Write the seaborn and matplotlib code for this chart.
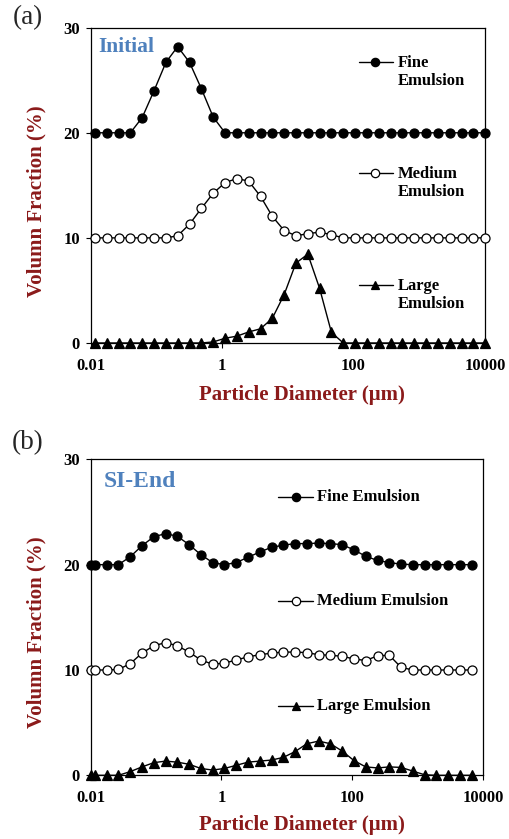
import matplotlib
matplotlib.use('Agg')
import matplotlib.pyplot as plt
import seaborn as sns
import pandas as pd
from matplotlib.ticker import FixedLocator, NullLocator

# ---------------- data ----------------
diam_a = [0.0116, 0.0176, 0.0266, 0.0403, 0.0610, 0.0923, 0.140, 0.211, 0.320, 0.484,
          0.733, 1.11, 1.68, 2.54, 3.85, 5.82, 8.81, 13.3, 20.2, 30.5,
          46.2, 70.0, 106, 160, 243, 367, 556, 841, 1274, 1928,
          2917, 4416, 6683, 10000]
fine_a = [20, 20, 20, 20, 21.45, 24.0, 26.7, 28.2, 26.7, 24.2,
          21.5, 20, 20, 20, 20, 20, 20, 20, 20, 20,
          20, 20, 20, 20, 20, 20, 20, 20, 20, 20,
          20, 20, 20, 20]
medium_a = [10, 10, 10, 10, 10, 10, 10, 10.2, 11.3, 12.8,
            14.25, 15.25, 15.65, 15.4, 13.95, 12.05, 10.7, 10.2, 10.4, 10.55,
            10.3, 10, 10, 10, 10, 10, 10, 10, 10, 10,
            10, 10, 10, 10]
large_a = [0, 0, 0, 0, 0, 0, 0, 0, 0, 0,
           0.1, 0.45, 0.65, 1.05, 1.35, 2.35, 4.6, 7.6, 8.45, 5.2,
           1.0, 0, 0, 0, 0, 0, 0, 0, 0, 0,
           0, 0, 0, 0]

diam_b = [0.0100, 0.0116, 0.0176, 0.0266, 0.0403, 0.0610, 0.0923, 0.140, 0.211, 0.320,
          0.484, 0.733, 1.11, 1.68, 2.54, 3.85, 5.82, 8.81, 13.3, 20.2,
          30.5, 46.2, 70.0, 106, 160, 243, 367, 556, 841, 1274,
          1928, 2917, 4416, 6683]
fine_b = [20, 20, 20, 20, 20.75, 21.8, 22.65, 22.95, 22.7, 21.9,
          20.95, 20.2, 20.0, 20.2, 20.7, 21.2, 21.65, 21.85, 22.0, 22.0,
          22.05, 22.0, 21.9, 21.4, 20.8, 20.4, 20.2, 20.05, 20, 20,
          20, 20, 20, 20]
medium_b = [10, 10, 10, 10.05, 10.6, 11.6, 12.3, 12.6, 12.3, 11.7,
            10.95, 10.55, 10.65, 10.95, 11.25, 11.45, 11.6, 11.7, 11.7, 11.65,
            11.45, 11.4, 11.3, 11.05, 10.9, 11.35, 11.4, 10.25, 10, 10,
            10, 10, 10, 10]
large_b = [0, 0, 0, 0, 0.35, 0.8, 1.2, 1.35, 1.25, 1.05,
           0.65, 0.5, 0.65, 0.95, 1.25, 1.35, 1.45, 1.7, 2.25, 3.0,
           3.25, 3.0, 2.3, 1.4, 0.8, 0.7, 0.8, 0.75, 0.4, 0.05,
           0, 0, 0, 0]

series_names = ["Fine Emulsion", "Medium Emulsion", "Large Emulsion"]
x_ticks = [0.01, 1, 100, 10000]
x_tick_labels = ["0.01", "1", "100", "10000"]
y_ticks = [0, 10, 20, 30]
panel_titles = ["Initial", "SI-End"]
panel_letters = ["(a)", "(b)"]
xlabel = "Particle Diameter (\u03bcm)"
ylabel = "Volumn Fraction (%)"

# ---------------- style ----------------
sns.set_style("ticks")
plt.rcParams['font.family'] = ['Liberation Serif', 'DejaVu Serif']
RED = "#8B1A1A"
BLUE = "#4F81BD"
styles = [dict(marker='o', markerfacecolor='black', markersize=6.5),
          dict(marker='o', markerfacecolor='white', markersize=6.5),
          dict(marker='^', markerfacecolor='black', markersize=6.5)]

fig = plt.figure(figsize=(5.09, 8.39), dpi=100)
ax_a = fig.add_axes([0.178, 0.5912, 0.7747, 0.3758])
ax_b = fig.add_axes([0.178, 0.0759, 0.7713, 0.3766])


def draw_panel(ax, x, ys):
    for y, st in zip(ys, styles):
        df = pd.DataFrame({"d": x, "v": y})
        sns.lineplot(data=df, x="d", y="v", ax=ax, color='black', linewidth=1.0,
                     markeredgecolor='black', markeredgewidth=0.9, clip_on=False,
                     zorder=3, **st)
    ax.set_xscale('log')
    ax.set_xlim(0.01, 10000)
    ax.set_ylim(0, 30)
    ax.xaxis.set_major_locator(FixedLocator(x_ticks))
    ax.xaxis.set_minor_locator(NullLocator())
    ax.set_xticks(x_ticks)
    ax.set_xticklabels(x_tick_labels)
    ax.set_yticks(y_ticks)
    for lab in ax.get_xticklabels() + ax.get_yticklabels():
        lab.set_fontweight('bold')
    ax.tick_params(axis='both', direction='out', length=3.6, width=0.8,
                   labelsize=12, colors='black')
    ax.tick_params(axis='x', pad=7)
    ax.tick_params(axis='y', pad=4)
    for sp in ax.spines.values():
        sp.set_visible(True)
        sp.set_color('black')
        sp.set_linewidth(0.9)
    ax.set_xlabel(xlabel, fontsize=15, fontweight='bold', color=RED)
    ax.set_ylabel(ylabel, fontsize=15, fontweight='bold', color=RED)
    ax.xaxis.label.set_va('center')
    ax.yaxis.label.set_va('center')


def legend_item(ax, y, text_y, label, st, x0, x1, xm, xt, two_line):
    ax.plot([x0, x1], [y, y], transform=ax.transAxes, color='black', lw=1.0, clip_on=False)
    kw = dict(st)
    kw['markersize'] = 6
    ax.plot([xm], [y], transform=ax.transAxes, color='black', markeredgecolor='black',
            markeredgewidth=0.9, clip_on=False, linestyle='none', **kw)
    txt = label.replace(" ", "\n") if two_line else label
    ax.text(xt, text_y, txt, transform=ax.transAxes, fontsize=12, fontweight='bold',
            ha='left', va='center', linespacing=1.2, color='black')


# Panel (a)
draw_panel(ax_a, diam_a, [fine_a, medium_a, large_a])
ax_a.xaxis.set_label_coords(0.536, -0.165)
ax_a.yaxis.set_label_coords(-0.136, 0.450)
ax_a.text(0.019, 0.939, panel_titles[0], transform=ax_a.transAxes, color=BLUE,
          fontsize=15.5, fontweight='bold', ha='left', va='center')
for name, st, yy, ty in zip(series_names, styles, [0.892, 0.538, 0.184], [0.860, 0.507, 0.152]):
    legend_item(ax_a, yy, ty, name, st, 0.680, 0.767, 0.722, 0.779, True)

# Panel (b)
draw_panel(ax_b, diam_b, [fine_b, medium_b, large_b])
ax_b.xaxis.set_label_coords(0.538, -0.157)
ax_b.yaxis.set_label_coords(-0.137, 0.452)
ax_b.text(0.034, 0.929, panel_titles[1], transform=ax_b.transAxes, color=BLUE,
          fontsize=17, fontweight='bold', ha='left', va='center')
for name, st, yy in zip(series_names, styles, [0.880, 0.552, 0.220]):
    legend_item(ax_b, yy, yy, name, st, 0.477, 0.566, 0.523, 0.576, False)

fig.text(0.0255, 0.9785, panel_letters[0], fontsize=19.5, ha='left', va='center')
fig.text(0.0236, 0.472, panel_letters[1], fontsize=19.5, ha='left', va='center')

fig.savefig("out.png", dpi=100)
